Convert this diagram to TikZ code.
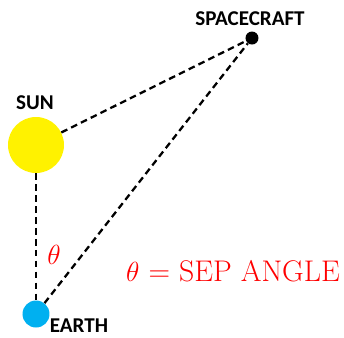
\documentclass[tikz,border=0pt]{standalone}
\usepackage{fontspec}
\setsansfont{Carlito}
\usetikzlibrary{positioning}
\definecolor{earthblue}{HTML}{00B0F0}

\begin{document}
\begin{tikzpicture}[x=0.75pt, y=-0.75pt,
  every node/.style={font=\sffamily\bfseries\fontsize{15.8}{18}\selectfont},
  body/.style={circle, inner sep=0pt},
  lbl/.style={inner sep=1pt, text=black},
  sep/.style={dashed, line width=1.7pt, dash pattern=on 5pt off 3.2pt},
  red/.style={text=red, font=\fontsize{22.4}{26}\selectfont}]

\useasboundingbox (0,0) rectangle (344,337);

%% --- Bodies ---
\node[body, fill=yellow, minimum size=56*0.75pt] (SUN)   at ( 36,145) {};
\node[body, fill=black,  minimum size=13*0.75pt] (CRAFT) at (252, 38) {};
\node[body, fill=earthblue, minimum size=27*0.75pt] (EARTH) at ( 36,314) {};

%% --- Labels ---
\node[lbl] (SUNL)   at ( 35,103) {SUN};
\node[lbl] (CRAFTL) at (250, 19) {SPACECRAFT};
\node[lbl, anchor=base] (EARTHL) at ( 79,332) {EARTH};

%% --- Lines ---
\draw[sep] (SUN)   -- (CRAFT);
\draw[sep] (SUN)   -- (EARTH);
\draw[sep] (EARTH) -- (CRAFT);

%% --- Angle ---
\node[red] (TH)  at ( 54,255) {$\theta$};
\node[red] (DEF) at (233,271) {$\theta$ = SEP ANGLE};
\end{tikzpicture}
\end{document}
